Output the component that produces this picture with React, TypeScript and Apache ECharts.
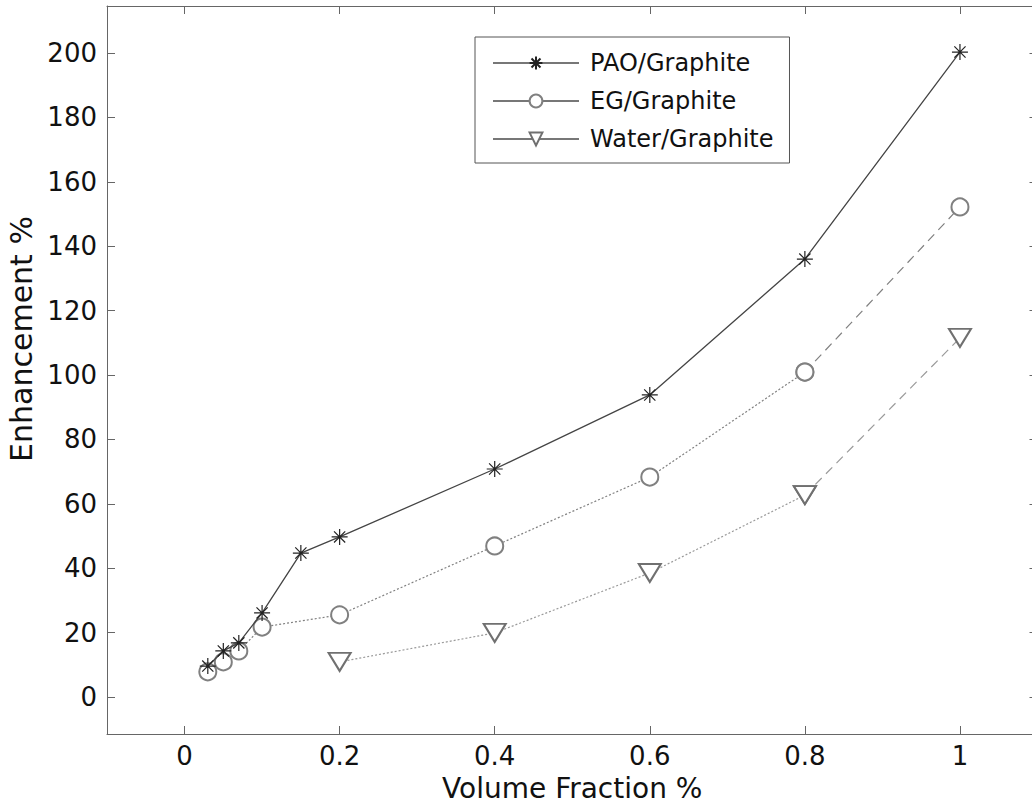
import React, { useEffect, useRef } from "react";
import * as echarts from "echarts";

const xTicks = [0, 0.2, 0.4, 0.6, 0.8, 1];
const yTicks = [0, 20, 40, 60, 80, 100, 120, 140, 160, 180, 200];

const paoX = [0.03, 0.05, 0.07, 0.1, 0.15, 0.2, 0.4, 0.6, 0.8, 1.0];
const paoY = [9.6, 14.3, 16.8, 26.1, 44.7, 49.7, 70.8, 93.8, 136, 200.3];

const egX = [0.03, 0.05, 0.07, 0.1, 0.2, 0.4, 0.6, 0.8, 1.0];
const egY = [7.8, 10.9, 14.3, 21.7, 25.5, 46.9, 68.3, 100.9, 152.2];

const waterX = [0.2, 0.4, 0.6, 0.8, 1.0];
const waterY = [10.9, 19.9, 38.5, 62.7, 111.5];

const STAR = "path://M0,-10L0,10M-10,0L10,0M-7,-7L7,7M-7,7L7,-7";
const TRI = "path://M0,0L22,0L11,18Z";

const zip = (xs: number[], ys: number[]) => xs.map((x, i) => [x, ys[i]]);

export default function App() {
  const ref = useRef<HTMLDivElement>(null);
  useEffect(() => {
    if (!ref.current) return;
    const chart = echarts.init(ref.current, null, { renderer: "svg" });
    const font = "'DejaVu Sans', sans-serif";
    const axisColor = "#666";
    const egPts = zip(egX, egY);
    const waPts = zip(waterX, waterY);
    chart.setOption({
      animation: false,
      backgroundColor: "#fff",
      textStyle: { fontFamily: font },
      grid: { left: 107, top: 6, right: -5.5, bottom: 73, containLabel: false, outerBoundsMode: "none" },
      legend: {
        show: true,
        data: ["PAO/Graphite", "EG/Graphite", "Water/Graphite"],
        orient: "vertical",
        left: 475,
        top: 37,
        itemWidth: 86,
        itemHeight: 16,
        itemGap: 14,
        padding: [14, 16, 12, 17],
        borderColor: "#555",
        borderWidth: 1,
        backgroundColor: "#fff",
        lineStyle: { type: "solid", color: "#777" },
        textStyle: { fontSize: 24, color: "#111", fontFamily: font, padding: [0, 0, 0, 6] },
      },
      xAxis: [
        {
          type: "value",
          min: -0.1,
          max: 1.1,
          position: "bottom",
          name: "Volume Fraction %",
          nameLocation: "middle",
          nameGap: 40,
          nameTextStyle: { fontSize: 28, lineHeight: 28, color: "#111", fontFamily: font },
          axisLine: { show: true, onZero: false, lineStyle: { color: axisColor } },
          axisTick: { show: true, inside: true, length: 8, customValues: xTicks, lineStyle: { color: axisColor } },
          axisLabel: { customValues: xTicks, fontSize: 26, color: "#111", margin: 9, fontFamily: font },
          splitLine: { show: false },
        },
        {
          type: "value",
          min: -0.1,
          max: 1.1,
          position: "top",
          axisLine: { show: true, onZero: false, lineStyle: { color: axisColor } },
          axisTick: { show: true, inside: true, length: 8, customValues: xTicks, lineStyle: { color: axisColor } },
          axisLabel: { show: false },
          splitLine: { show: false },
        },
      ],
      yAxis: [
        {
          type: "value",
          min: -11.5,
          max: 214.6,
          position: "left",
          name: "Enhancement %",
          nameLocation: "middle",
          nameGap: 64,
          nameTextStyle: { fontSize: 30, color: "#111", fontFamily: font, padding: [0, 0, 0, 62] },
          axisLine: { show: true, onZero: false, lineStyle: { color: axisColor } },
          axisTick: { show: true, inside: true, length: 8, customValues: yTicks, lineStyle: { color: axisColor } },
          axisLabel: { customValues: yTicks, fontSize: 26, color: "#111", margin: 10, fontFamily: font },
          splitLine: { show: false },
        },
        {
          type: "value",
          min: -11.5,
          max: 214.6,
          position: "right",
          axisLine: { show: true, onZero: false, lineStyle: { color: axisColor } },
          axisTick: { show: true, inside: true, length: 8, customValues: yTicks, lineStyle: { color: axisColor } },
          axisLabel: { show: false },
          splitLine: { show: false },
        },
      ],
      series: [
        {
          name: "PAO/Graphite",
          type: "line",
          data: zip(paoX, paoY),
          symbol: STAR,
          symbolSize: 16,
          showSymbol: true,
          lineStyle: { color: "#444", width: 1.3, type: "solid" },
          itemStyle: { color: "none", borderColor: "#222", borderWidth: 1.2 },
          z: 5,
        },
        {
          name: "EG/Graphite",
          type: "line",
          data: egPts.slice(0, egPts.length - 1),
          symbol: "emptyCircle",
          symbolSize: 17,
          lineStyle: { color: "#808080", width: 1.2, type: [2, 2] },
          itemStyle: { color: "#808080", borderWidth: 1.1 },
          z: 4,
        },
        {
          name: "EG-ext",
          type: "line",
          data: egPts.slice(egPts.length - 2),
          symbol: "emptyCircle",
          symbolSize: 17,
          lineStyle: { color: "#808080", width: 1.2, type: [9, 6] },
          itemStyle: { color: "#808080", borderWidth: 1.1 },
          z: 4,
        },
        {
          name: "Water/Graphite",
          type: "line",
          data: waPts.slice(0, waPts.length - 1),
          symbol: TRI,
          symbolSize: [22, 18],
          lineStyle: { color: "#9a9a9a", width: 1.2, type: [2, 2] },
          itemStyle: { color: "#fff", borderColor: "#707070", borderWidth: 2 },
          z: 3,
        },
        {
          name: "Water-ext",
          type: "line",
          data: waPts.slice(waPts.length - 2),
          symbol: TRI,
          symbolSize: [22, 18],
          lineStyle: { color: "#9a9a9a", width: 1.2, type: [9, 6] },
          itemStyle: { color: "#fff", borderColor: "#707070", borderWidth: 2 },
          z: 3,
        },
      ],
    });
    return () => chart.dispose();
  }, []);
  return (
    <div
      ref={ref}
      style={{ position: "fixed", left: 0, top: 0, width: 1032, height: 807, background: "#fff" }}
    />
  );
}
